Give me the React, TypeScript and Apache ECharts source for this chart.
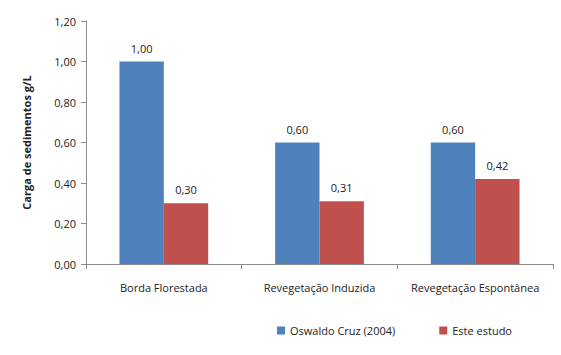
import React, { useEffect, useRef } from "react";
import * as echarts from "echarts";

const categories = ["Borda Florestada", "Revegetação Induzida", "Revegetação Espontânea"];
const seriesNames = ["Oswaldo Cruz (2004)", "Este estudo"];
const oswaldoValues = [1.0, 0.6, 0.6];
const esteValues = [0.3, 0.31, 0.42];
const colors = ["#4F81BD", "#C0504D"];

const fmt = (v: number) => v.toFixed(2).replace(".", ",");
const FONT = "'Open Sans', 'Noto Sans', sans-serif";

export default function App() {
  const ref = useRef<HTMLDivElement>(null);
  useEffect(() => {
    if (!ref.current) return;
    const chart = echarts.init(ref.current, undefined, { renderer: "svg" });
    const axisLine = { show: true, lineStyle: { color: "#8c8c8c", width: 1 } };
    chart.setOption({
      animation: false,
      backgroundColor: "#ffffff",
      textStyle: { fontFamily: FONT },
      grid: { left: 86, right: 8, top: 21, bottom: 91, containLabel: false },
      legend: {
        left: 272,
        top: 320,
        itemWidth: 8,
        itemHeight: 8,
        itemGap: 44,
        icon: "rect",
        textStyle: { fontSize: 11, color: "#222", fontFamily: FONT },
        data: seriesNames,
      },
      xAxis: {
        type: "category",
        data: categories,
        axisLine,
        axisTick: { show: true, length: 5, lineStyle: { color: "#8c8c8c" } },
        axisLabel: { interval: 0, hideOverlap: false, fontSize: 11, color: "#222", margin: 18, fontFamily: FONT },
      },
      yAxis: {
        type: "value",
        min: 0,
        max: 1.2,
        interval: 0.2,
        name: "Carga de sedimentos g/L",
        nameLocation: "middle",
        nameGap: 54,
        nameTextStyle: { fontSize: 11, fontWeight: "bold", color: "#222", fontFamily: FONT },
        axisLine,
        axisTick: { show: true, length: 5, lineStyle: { color: "#8c8c8c" } },
        splitLine: { show: false },
        axisLabel: { fontSize: 11, color: "#222", margin: 10, formatter: (v: number) => fmt(v), fontFamily: FONT },
      },
      series: [
        {
          name: seriesNames[0],
          type: "bar",
          data: oswaldoValues,
          itemStyle: { color: colors[0] },
          barGap: "0%",
          barCategoryGap: "43%",
          label: { show: true, position: "top", distance: 8, fontSize: 11, color: "#222", formatter: (p: any) => fmt(p.value), fontFamily: FONT },
        },
        {
          name: seriesNames[1],
          type: "bar",
          data: esteValues,
          itemStyle: { color: colors[1] },
          barGap: "0%",
          barCategoryGap: "43%",
          label: { show: true, position: "top", distance: 8, fontSize: 11, color: "#222", formatter: (p: any) => fmt(p.value), fontFamily: FONT },
        },
      ],
    });
    return () => chart.dispose();
  }, []);
  return <div ref={ref} style={{ width: 561, height: 355, position: "absolute", left: 0, top: 0 }} />;
}
